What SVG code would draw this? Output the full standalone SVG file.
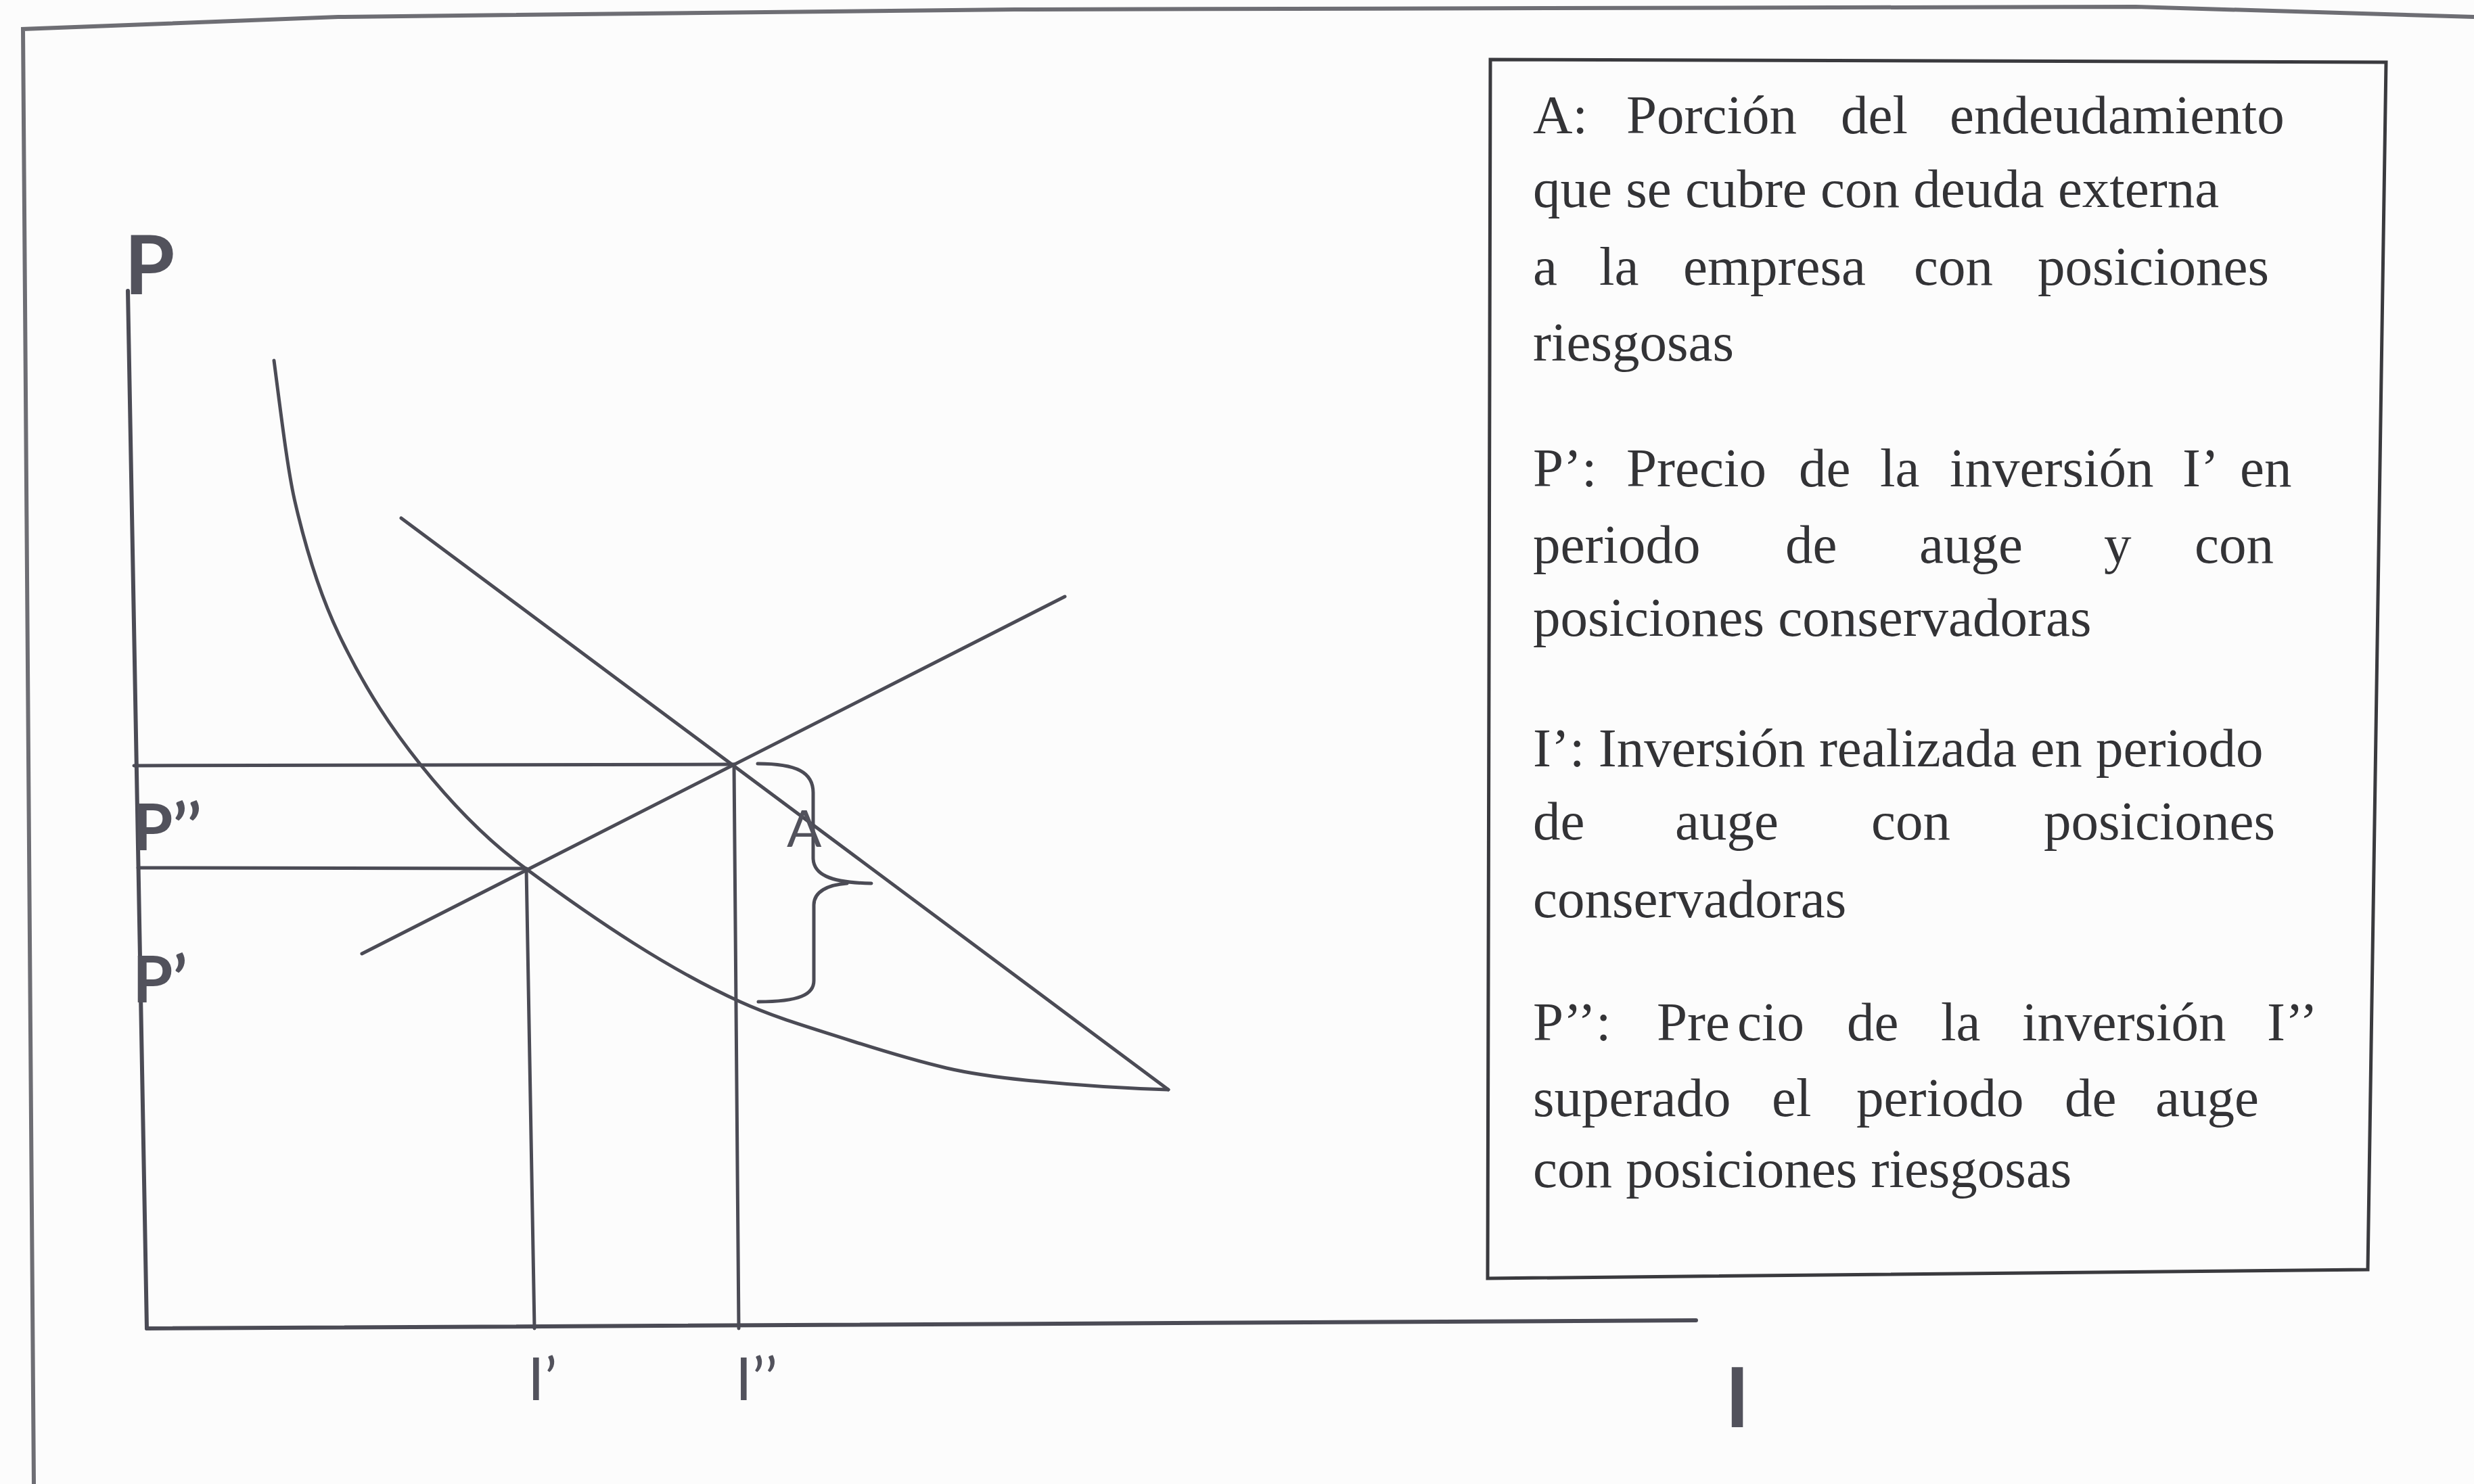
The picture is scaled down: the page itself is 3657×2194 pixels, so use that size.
<svg xmlns="http://www.w3.org/2000/svg" width="3657" height="2194" viewBox="0 0 3657 2194">
<style>
.ln{fill:none;stroke:#4b4b55;stroke-width:5;stroke-linecap:round;stroke-linejoin:round}
.ax{fill:none;stroke:#4b4b55;stroke-width:6;stroke-linecap:round}
.fr{fill:none;stroke:#6e6e74;stroke-width:6}
.box{fill:none;stroke:#3a3a3e;stroke-width:5}
.lab{font-family:Lato,"Open Sans","Liberation Sans",sans-serif;fill:#52525c}
.lt{font-family:"Liberation Serif","Times New Roman",serif;font-size:81px;fill:#333336}
</style>
<rect width="3657" height="2194" fill="#fcfcfc"/>
<g id="frame">
<polyline class="fr" points="50,2194 34,43 500,25 1500,14 3157,10 3657,25"/>
</g>
<g id="axes">
<line class="ax" x1="189" y1="430" x2="217" y2="1964"/>
<line class="ax" x1="217" y1="1964" x2="2507" y2="1952"/>
</g>
<g id="connectors">
<line class="ln" x1="198" y1="1132" x2="1084" y2="1130"/>
<line class="ln" x1="204" y1="1283" x2="777" y2="1284"/>
<line class="ln" x1="778" y1="1284" x2="790" y2="1964"/>
<line class="ln" x1="1085" y1="1130" x2="1092" y2="1964"/>
<line class="ln" x1="593" y1="766" x2="1727" y2="1611"/>
<line class="ln" x1="535" y1="1410" x2="1574" y2="882"/>
<path class="ln" d="M405,533 C416,618 426,701 437,746 C458,836 480,894 501,938 C541,1022 582,1081 622,1131 C674,1196 725,1246 777,1284 C883,1362 988,1433 1094,1481 C1149,1506 1204,1521 1259,1539 C1306,1554 1352,1568 1399,1579 C1438,1588 1477,1593 1516,1597 C1586,1604 1657,1609 1727,1611"/>
<path id="brace" class="ln" d="M1120,1129 C1178,1129 1202,1142 1202,1172 L1202,1268 C1202,1292 1225,1305 1288,1306 M1252,1306 C1224,1308 1203,1318 1203,1338 L1203,1450 C1203,1470 1182,1481 1121,1481"/>
</g>
<g id="graph-labels">
<text class="lab" x="184" y="435" font-size="120" font-weight="bold">P</text>
<text class="lab" x="196" y="1257" font-size="96" font-weight="bold">P’’</text>
<text class="lab" x="196" y="1482" font-size="96" font-weight="bold">P’</text>
<text class="lab" x="1163" y="1252" font-size="76" fill="#4b4b55">A</text>
<text class="lab" x="780" y="2070" font-size="88">I’</text>
<text class="lab" x="1087" y="2070" font-size="88">I’’</text>
<text class="lab" x="2550" y="2110" font-size="122" font-weight="bold">I</text>
</g>
<g id="legend">
<polygon class="box" points="2203,88 3527,92 3500,1877 2199,1890"/>
<text class="lt" y="197"><tspan x="2266">A:</tspan><tspan x="2404">Porción</tspan><tspan x="2721">del</tspan><tspan x="2882">endeudamiento</tspan></text>
<text class="lt" x="2266" y="306">que se cubre con deuda externa</text>
<text class="lt" y="421"><tspan x="2266">a</tspan><tspan x="2364">la</tspan><tspan x="2488">empresa</tspan><tspan x="2829">con</tspan><tspan x="3012">posiciones</tspan></text>
<text class="lt" x="2266" y="533">riesgosas</text>
<text class="lt" y="719"><tspan x="2266">P’:</tspan><tspan x="2404">Precio</tspan><tspan x="2659">de</tspan><tspan x="2779">la</tspan><tspan x="2882">inversión</tspan><tspan x="3226">I’</tspan><tspan x="3311">en</tspan></text>
<text class="lt" y="832"><tspan x="2266">periodo</tspan><tspan x="2639">de</tspan><tspan x="2837">auge</tspan><tspan x="3110">y</tspan><tspan x="3244">con</tspan></text>
<text class="lt" x="2266" y="940">posiciones conservadoras</text>
<text class="lt" x="2266" y="1133">I’: Inversión realizada en periodo</text>
<text class="lt" y="1241"><tspan x="2266">de</tspan><tspan x="2476">auge</tspan><tspan x="2766">con</tspan><tspan x="3021">posiciones</tspan></text>
<text class="lt" x="2266" y="1356">conservadoras</text>
<text class="lt" y="1538"><tspan x="2266">P’’:</tspan><tspan x="2449">Pre</tspan><tspan x="2568">cio</tspan><tspan x="2730">de</tspan><tspan x="2869">la</tspan><tspan x="2989">inversión</tspan><tspan x="3351">I’’</tspan></text>
<text class="lt" y="1650"><tspan x="2266">superado</tspan><tspan x="2619">el</tspan><tspan x="2744">periodo</tspan><tspan x="3052">de</tspan><tspan x="3186">auge</tspan></text>
<text class="lt" x="2266" y="1755">con posiciones riesgosas</text>
</g>
</svg>
